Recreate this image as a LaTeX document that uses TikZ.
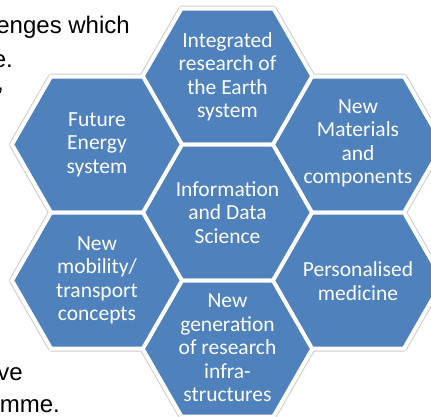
\documentclass[tikz,border=0pt]{standalone}
\usepackage{fontspec}
\setmainfont{Carlito}
\newfontfamily\bgfont{Liberation Sans}
\definecolor{hexblue}{HTML}{4F81BD}
\begin{document}
\begin{tikzpicture}[x=1pt,y=-1pt,
  hexglow/.style={draw=black!20, line width=6pt, line join=round},
  hexfill/.style={fill=hexblue, draw=white, line width=4pt, line join=miter},
  hextext/.style={text=white, align=center, font=\fontsize{21.5}{23.5}\selectfont, inner sep=0pt},
  bgtext/.style={font=\bgfont\fontsize{24}{28}\selectfont, text=black, inner sep=0pt, anchor=base east}]
\useasboundingbox (0,0) rectangle (431,416);
\clip (0,0) rectangle (431,416);
\fill[white] (0,0) rectangle (431,416);
% background text
\node[bgtext] (l1) at (130,33) {enges which};
\node[bgtext] (l2) at (13,67) {e.};
\node[bgtext] (l3) at (4,90) {,};
\node[bgtext] (l4) at (23,380) {ve};
\node[bgtext] (l5) at (60,412) {mme.};
% hexagons
\foreach \x/\y in {227.5/76.5, 227.5/212.5, 227.5/348.5, 97/144.5, 97/280.5, 358/144.5, 358/280.5}
  \path[hexglow, shift={(\x,\y)}] (-85,0) -- (-46,-68) -- (46,-68) -- (85,0) -- (46,68) -- (-46,68) -- cycle;
\foreach \x/\y in {227.5/76.5, 227.5/212.5, 227.5/348.5, 97/144.5, 97/280.5, 358/144.5, 358/280.5}
  \path[hexfill, shift={(\x,\y)}] (-85,0) -- (-46,-68) -- (46,-68) -- (85,0) -- (46,68) -- (-46,68) -- cycle;
% labels
\node[hextext] (top) at (227.5,77) {Integrated\\research of\\the Earth\\system};
\node[hextext] (mid) at (227.5,212.5) {Information\\and Data\\Science};
\node[hextext] (bot) at (227.5,348) {New\\generation\\of research\\infra-\\structures};
\node[hextext] (ul) at (97,144.5) {Future\\Energy\\system};
\node[hextext] (ll) at (97,280.5) {New\\mobility/\\transport\\concepts};
\node[hextext] (ur) at (358,143.5) {New\\Materials\\and\\components};
\node[hextext] (lr) at (358,281) {Personalised\\medicine};
\end{tikzpicture}
\end{document}
